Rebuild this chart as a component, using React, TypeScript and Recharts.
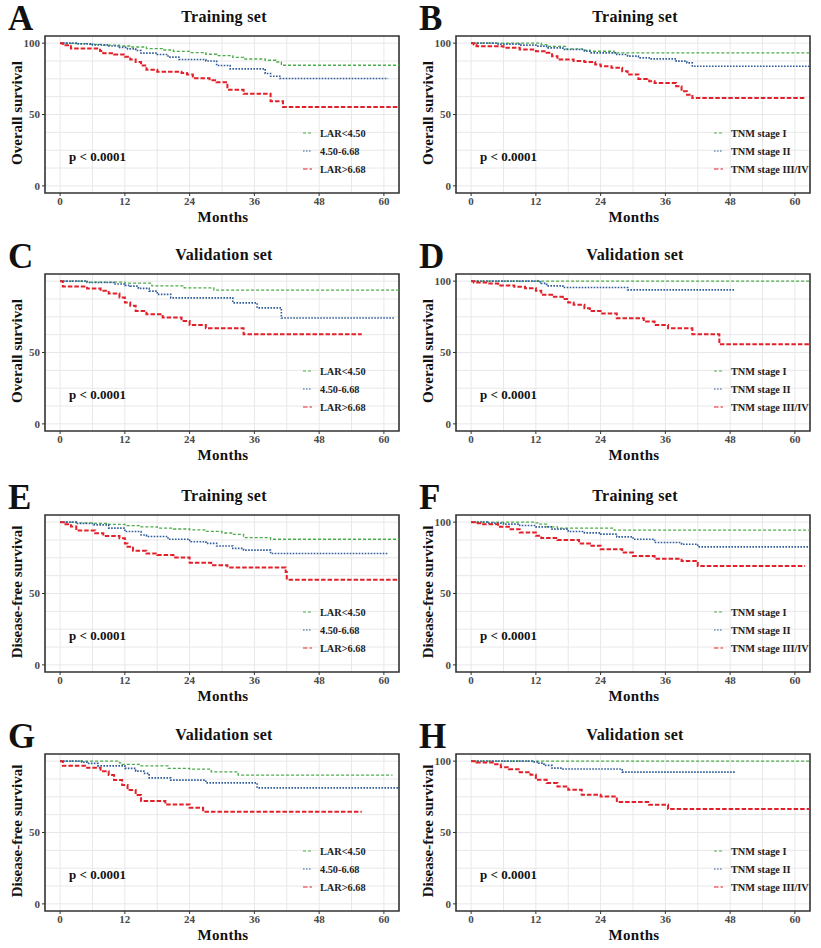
import React from 'react';
import { LineChart, Line, XAxis, YAxis, CartesianGrid, ReferenceArea } from 'recharts';

type Pair = [number, number];

// ---------- tick labels / grid values ----------
const monthTicks = [0, 12, 24, 36, 48, 60];
const gridMonths = [0, 6, 12, 18, 24, 30, 36, 42, 48, 54, 60];
const gridSurvival = [0, 12.5, 25, 37.5, 50, 62.5, 75, 87.5, 100];
const yTicksFull = [0, 50, 100];
const yTicksShort = [0, 50];

const larLabels = ['LAR<4.50', '4.50-6.68', 'LAR>6.68'];
const tnmLabels = ['TNM stage I', 'TNM stage II', 'TNM stage III/IV'];

// ---------- A: OS training, LAR ----------
const A_green: Pair[] = [[0,100],[2,99.6],[5,99.2],[8,98.6],[11,98],[13,97.3],[16,96.2],[19,95.2],[21,94.2],[24,93.4],[27,92.2],[29,91.2],[32,90],[34,88.9],[38,88],[40,86.8],[41,84.5],[63,84.5]];
const A_blue: Pair[] = [[0,100],[3,99.5],[6,98.8],[9,98],[11,97],[12.5,96],[14,94.8],[15,93],[18,92],[20,90.2],[22,88.5],[27,87.5],[29,84.3],[31.5,82],[38,78.7],[39,76.8],[40.7,75.2],[60.8,75.2]];
const A_red: Pair[] = [[0,100],[0.5,98.5],[2,96.2],[7.4,94.5],[8,93],[10,92],[12,90.4],[13,88.5],[14,86.7],[15,84.3],[16,81.3],[18,80],[22.5,79],[23.5,78],[24.6,75.4],[27.7,74],[29,72.6],[31,67.4],[34,64.6],[39,59.3],[41.3,55.3],[63,55.3]];

// ---------- B: OS training, TNM ----------
const B_green: Pair[] = [[0,100],[13,99],[14,97.8],[17.5,96],[20.6,95],[22,94.3],[26.5,93.2],[63,93.2]];
const B_blue: Pair[] = [[0,100],[5,99.3],[9,98.6],[12,97.9],[14,96.7],[17,95.5],[21,94.4],[22,93.2],[27,92],[29,90.9],[31,89.7],[33,89],[38,87.4],[40,86.2],[41,83.8],[63,83.8]];
const B_red: Pair[] = [[0,100],[0.5,99],[1,97.9],[6,96.7],[9,95.5],[12,94.4],[14,93.2],[15,90.9],[16,88.5],[19,87.4],[21,86.7],[23,85],[24,83.8],[26,82.7],[28,80.3],[29,78],[31,74.9],[33,73.3],[34,72.1],[38,69.8],[39,66.3],[40,63.9],[41,61.6],[61.9,61.6]];

// ---------- C: OS validation, LAR ----------
const C_green: Pair[] = [[0,100],[5,99.3],[12,98.6],[17,96.7],[23,95.3],[28.5,93.7],[63,93.7]];
const C_blue: Pair[] = [[0,100],[5,99],[10,98],[12,97],[13,96.5],[14.5,94.9],[16.5,93],[18,90.7],[20.5,88.3],[32,84.8],[36.5,81.3],[41,74.2],[62,74.2]];
const C_red: Pair[] = [[0,100],[0.5,96.3],[5,94.9],[7.5,93.2],[9,91.3],[11,88.5],[12,85],[13,82.7],[14,79],[16,76.8],[19,74.5],[22.5,72],[24,69.3],[27,67],[34,62.8],[55.9,62.8]];

// ---------- D: OS validation, TNM ----------
const D_green: Pair[] = [[0,100],[63,100]];
const D_blue: Pair[] = [[0,100],[12.5,99.5],[13,98.4],[14,96.7],[17,95.5],[29,93.9],[48.9,93.9]];
const D_red: Pair[] = [[0,100],[0.5,99],[3,98.4],[5,97],[8,96],[10,95],[12,93.2],[13,90.4],[15,89],[17,87.4],[18,85],[19,83.4],[21,81],[22,79],[24,77.3],[27,74],[32,71.7],[34,69.3],[36.5,67],[41,62.8],[46,55.7],[63,55.7]];

// ---------- E: DFS training, LAR ----------
const E_green: Pair[] = [[0,100],[3,99.5],[6,99.2],[9,98.4],[12,97.6],[15,96.7],[18,95.8],[21,95.2],[24,94.6],[27,93.5],[30,92.4],[32,91.4],[34,89.2],[39,88],[63,88]];
const E_blue: Pair[] = [[0,100],[3,99],[6,98.1],[9,95.8],[12,93.4],[15,91],[16,89.9],[20,88],[24,86.3],[27,85.1],[29,83.3],[32,81.6],[34,80.4],[39,78],[60.7,78]];
const E_red: Pair[] = [[0,100],[1,98.5],[2,96.9],[3,94.1],[6.5,92.2],[8,90.3],[11,88.7],[12,85.1],[12.5,82.8],[13.5,80],[16,78],[18,76.9],[21,75.2],[24,71.5],[28,69.8],[31,68.2],[41.8,65],[42,59.7],[63,59.7]];

// ---------- F: DFS training, TNM ----------
const F_green: Pair[] = [[0,100],[12,99.5],[12.5,98.6],[14,96.7],[16,95.8],[26.5,94.4],[63,94.4]];
const F_blue: Pair[] = [[0,100],[3,99.3],[6,98.6],[9,97.6],[12,96.7],[15,95.1],[18,93.4],[21,92.5],[24,91.6],[27,89.7],[30,88],[34,85.7],[39,84.5],[42,82.7],[63,82.7]];
const F_red: Pair[] = [[0,100],[1,99.3],[2,98.6],[5,96.7],[7,95.1],[9,92.7],[12,90.4],[13,88.8],[16,87.4],[20,85],[22,83.4],[24,81],[28,78.7],[30,76.3],[34,74.4],[39,72.8],[42,69.3],[61.9,69.3]];

// ---------- G: DFS validation, LAR ----------
const G_green: Pair[] = [[0,100],[11,98.8],[11.5,97.7],[15,96.7],[20,94.9],[24,94.4],[28,92.5],[33,90.2],[61.6,90.2]];
const G_blue: Pair[] = [[0,100],[4,99.3],[5,98.4],[7,96.7],[12,94.9],[14,93],[15.5,91.4],[16.5,88.3],[20.5,86.7],[27,84.8],[36.5,81.3],[63,81.3]];
const G_red: Pair[] = [[0,100],[0.5,96.7],[5,95.3],[7.5,93],[9,90.2],[10,86.7],[11.5,83.2],[12.5,79.7],[14,76.2],[15,72],[19.5,69.6],[24,67.3],[26.5,64.5],[55.9,64.5]];

// ---------- H: DFS validation, TNM ----------
const H_green: Pair[] = [[0,100],[63,100]];
const H_blue: Pair[] = [[0,100],[11.5,99.5],[12.5,98.6],[13.5,97],[15,95.1],[17,94.5],[28,92.3],[48.9,92.3]];
const H_red: Pair[] = [[0,100],[1,99],[4,97.9],[5.5,95.8],[7,94.4],[9,92.3],[11,90.4],[12,86.9],[14,84.6],[16,82.2],[18,79.9],[20.5,76.4],[24,75.2],[27,71.3],[33,69.4],[36.5,66.4],[63,66.4]];

// ---------- styles ----------
const FONT = '"Liberation Serif", "Times New Roman", serif';
const STYLES = [
  { color: '#4dac4a', dash: '3 2', width: 1.3 },
  { color: '#2f5d9c', dash: '1.6 1.4', width: 1.6 },
  { color: '#e2202a', dash: '4.5 2', width: 2 },
];

const toRows = (p: Pair[]) => p.map(([t, s]) => ({ t, s }));

type PanelProps = {
  letter: string;
  title: string;
  yLabel: string;
  labels: string[];
  series: Pair[][];
  yTicks: number[];
  left: number;
  top: number;
};

const tickStyle = { fill: '#4a4a4a', fontSize: 11, fontFamily: FONT, fontWeight: 700 };

function Panel({ letter, title, yLabel, labels, series, yTicks, left, top }: PanelProps) {
  return (
    <div style={{ position: 'absolute', left, top, width: 410, height: 239 }}>
      <LineChart width={410} height={239} margin={{ top: 36, right: 11, left: 0, bottom: 0 }}>
        <CartesianGrid
          horizontalValues={gridSurvival}
          verticalValues={gridMonths}
          stroke="#e8e8e8"
          strokeWidth={1}
        />
        <XAxis
          type="number"
          dataKey="t"
          domain={[-2.8, 62.8]}
          allowDataOverflow
          ticks={monthTicks}
          axisLine={false}
          tickLine={{ stroke: '#333' }}
          tickSize={3}
          tickMargin={1}
          height={46}
          tick={tickStyle}
          interval={0}
        />
        <YAxis
          type="number"
          domain={[-5, 105]}
          allowDataOverflow
          ticks={yTicks}
          axisLine={false}
          tickLine={{ stroke: '#333' }}
          tickSize={3}
          tickMargin={2}
          width={45}
          tick={tickStyle}
          interval={0}
        />
        {series.map((d, i) => (
          <Line
            key={i}
            data={toRows(d)}
            dataKey="s"
            type="stepAfter"
            stroke={STYLES[i].color}
            strokeWidth={STYLES[i].width}
            strokeDasharray={STYLES[i].dash}
            dot={false}
            activeDot={false}
            isAnimationActive={false}
          />
        ))}
        <ReferenceArea
          x1={-2.8}
          x2={62.8}
          y1={-5}
          y2={105}
          fill="none"
          stroke="#333"
          strokeWidth={1.6}
          ifOverflow="visible"
        />
      </LineChart>
      <div style={{ position: 'absolute', left: 8, top: 1, fontFamily: FONT, fontWeight: 700, fontSize: 35, lineHeight: '35px', color: '#111' }}>
        {letter}
      </div>
      <div style={{ position: 'absolute', left: 224, top: 17, transform: 'translate(-50%,-50%)', fontFamily: FONT, fontWeight: 700, fontSize: 16, letterSpacing: 0.3, whiteSpace: 'nowrap', color: '#111' }}>
        {title}
      </div>
      <div style={{ position: 'absolute', left: 17, top: 113, transform: 'translate(-50%,-50%) rotate(-90deg)', fontFamily: FONT, fontWeight: 700, fontSize: 15, whiteSpace: 'nowrap', color: '#111' }}>
        {yLabel}
      </div>
      <div style={{ position: 'absolute', left: 223, top: 217, transform: 'translate(-50%,-50%)', fontFamily: FONT, fontWeight: 700, fontSize: 15, letterSpacing: 0.3, whiteSpace: 'nowrap', color: '#111' }}>
        Months
      </div>
      <div style={{ position: 'absolute', left: 69, top: 157, transform: 'translateY(-50%)', fontFamily: FONT, fontWeight: 700, fontSize: 13, whiteSpace: 'nowrap', color: '#111' }}>
        p &lt; 0.0001
      </div>
      {labels.map((lab, i) => (
        <div key={lab} style={{ position: 'absolute', left: 303, top: 126 + i * 18, height: 14, display: 'flex', alignItems: 'center', whiteSpace: 'nowrap' }}>
          <svg width={9} height={4} style={{ marginRight: 8, display: 'block' }}>
            <line x1={0} y1={2} x2={9} y2={2} stroke={STYLES[i].color} strokeWidth={1.2} strokeDasharray={STYLES[i].dash} />
          </svg>
          <span style={{ fontFamily: FONT, fontWeight: 700, fontSize: 10.3, color: '#222' }}>{lab}</span>
        </div>
      ))}
    </div>
  );
}

const COLS = [0, 411];
const ROWS = [0, 238, 479, 718];

export default function App() {
  return (
    <div style={{ position: 'absolute', left: 0, top: 0, width: 821, height: 948, background: '#fff' }}>
      <Panel letter="A" title="Training set" yLabel="Overall survival" labels={larLabels} series={[A_green, A_blue, A_red]} yTicks={yTicksFull} left={COLS[0]} top={ROWS[0]} />
      <Panel letter="B" title="Training set" yLabel="Overall survival" labels={tnmLabels} series={[B_green, B_blue, B_red]} yTicks={yTicksFull} left={COLS[1]} top={ROWS[0]} />
      <Panel letter="C" title="Validation set" yLabel="Overall survival" labels={larLabels} series={[C_green, C_blue, C_red]} yTicks={yTicksShort} left={COLS[0]} top={ROWS[1]} />
      <Panel letter="D" title="Validation set" yLabel="Overall survival" labels={tnmLabels} series={[D_green, D_blue, D_red]} yTicks={yTicksFull} left={COLS[1]} top={ROWS[1]} />
      <Panel letter="E" title="Training set" yLabel="Disease-free survival" labels={larLabels} series={[E_green, E_blue, E_red]} yTicks={yTicksShort} left={COLS[0]} top={ROWS[2]} />
      <Panel letter="F" title="Training set" yLabel="Disease-free survival" labels={tnmLabels} series={[F_green, F_blue, F_red]} yTicks={yTicksFull} left={COLS[1]} top={ROWS[2]} />
      <Panel letter="G" title="Validation set" yLabel="Disease-free survival" labels={larLabels} series={[G_green, G_blue, G_red]} yTicks={yTicksShort} left={COLS[0]} top={ROWS[3]} />
      <Panel letter="H" title="Validation set" yLabel="Disease-free survival" labels={tnmLabels} series={[H_green, H_blue, H_red]} yTicks={yTicksFull} left={COLS[1]} top={ROWS[3]} />
    </div>
  );
}
